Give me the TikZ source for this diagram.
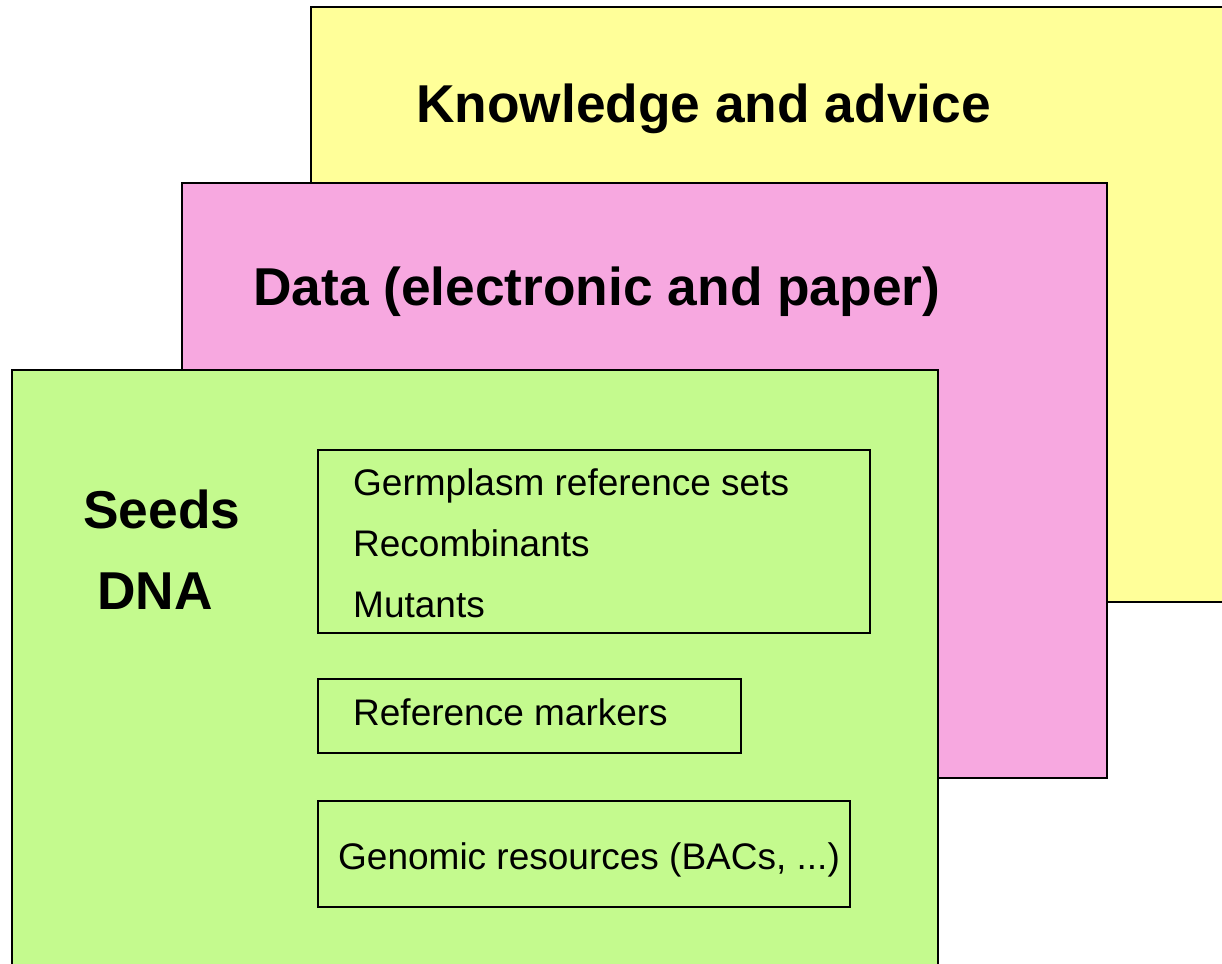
\documentclass[tikz,border=0pt]{standalone}
\usepackage{fontspec}
\setmainfont{Liberation Sans}
\definecolor{kyellow}{RGB}{255,255,153}
\definecolor{dpink}{RGB}{247,168,224}
\definecolor{sgreen}{RGB}{196,250,142}
\begin{document}
\begin{tikzpicture}[x=1pt,y=-1pt,
  layer/.style={draw=black,line width=2.8pt},
  itembox/.style={draw=black,line width=2.2pt},
  title/.style={anchor=base west,inner sep=0pt,font=\fontsize{53.3}{60}\selectfont\bfseries},
  item/.style={anchor=base west,inner sep=0pt,font=\fontsize{37}{42}\selectfont}]
\useasboundingbox (0,0) rectangle (1222,963);
\begin{scope}
\clip (0,0) rectangle (1222,963);
\fill[white] (0,0) rectangle (1222,963);
\draw[layer,fill=kyellow] (311,7) rectangle (1240,602);
\draw[layer,fill=dpink] (182,183) rectangle (1107,778);
\draw[layer,fill=sgreen] (12,370) rectangle (938,990);
\end{scope}
\node[title] (know) at (416,123) {Knowledge and advice};
\node[title] (data) at (253,305) {Data (electronic and paper)};
\node[title] (seeds) at (83,528) {Seeds};
\node[title] (dna) at (97,609) {DNA};
\draw[itembox] (318,450) rectangle (870,633);
\draw[itembox] (318,679) rectangle (741,753);
\draw[itembox] (318,801) rectangle (850,907);
\node[item] (germ) at (353,495) {Germplasm reference sets};
\node[item] (recomb) at (353,556) {Recombinants};
\node[item] (mut) at (353,617) {Mutants};
\node[item] (refm) at (353,725) {Reference markers};
\node[item] (geno) at (338,869) {Genomic resources (BACs, ...)};
\end{tikzpicture}
\end{document}
